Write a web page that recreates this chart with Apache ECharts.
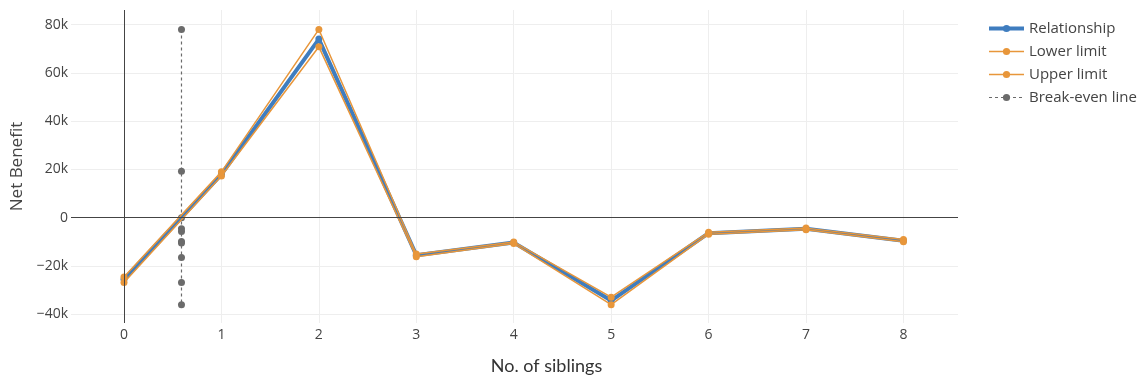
<!DOCTYPE html>
<html>
<head>
<meta charset="utf-8">
<script src="https://cdn.jsdelivr.net/npm/echarts@6/dist/echarts.min.js"></script>
<style>html,body{margin:0;padding:0;background:#fff}#c{width:1137px;height:380px}</style>
</head>
<body>
<div id="c"></div>
<script>
const siblings = [0, 1, 2, 3, 4, 5, 6, 7, 8];
const relationship = [-25500, 18000, 74000, -15500, -10300, -34300, -6400, -4600, -9500];
const lowerLimit = [-26800, 17300, 70800, -16200, -10700, -36000, -6800, -5000, -9900];
const upperLimit = [-24500, 19000, 78000, -15000, -10000, -32900, -6000, -4300, -9000];
const breakEvenX = 0.59;
const breakEvenY = [78000, 19300, 0, -4600, -5700, -9800, -10500, -16500, -26800, -36000];
const xTicks = [0, 1, 2, 3, 4, 5, 6, 7, 8];
const yTicks = [-40000, -20000, 0, 20000, 40000, 60000, 80000];

const pairs = (xs, ys) => xs.map((x, i) => [x, ys[i]]);
const blue = '#3f7dbf';
const orange = '#e8963a';
const grey = '#6b6b6b';

const chart = echarts.init(document.getElementById('c'));
chart.setOption({
  animation: false,
  textStyle: {fontFamily: 'Open Sans'},
  grid: {left: 71, right: 179, top: 10, bottom: 51, containLabel: false},
  legend: {
    orient: 'vertical', left: 982, top: 16,
    itemWidth: 35, itemHeight: 9, itemGap: 8,
    textStyle: {fontSize: 15, color: '#444', fontFamily: 'Open Sans'},
    data: [
      {name: 'Relationship', lineStyle: {width: 4}},
      {name: 'Lower limit', lineStyle: {width: 1.5}},
      {name: 'Upper limit', lineStyle: {width: 1.5}},
      {name: 'Break-even line', lineStyle: {width: 1.2}}
    ]
  },
  xAxis: {
    type: 'value', min: -0.544, max: 8.56,
    axisLine: {show: false}, axisTick: {show: false, customValues: xTicks},
    axisLabel: {customValues: xTicks, color: '#444', fontSize: 14, margin: 5},
    splitLine: {show: true, lineStyle: {color: '#eeeeee', width: 1}},
    name: 'No. of siblings', nameLocation: 'middle', nameGap: 34,
    nameTextStyle: {fontSize: 18, color: '#333', fontFamily: 'Lato', padding: [0, 0, 0, 64]}
  },
  yAxis: {
    type: 'value', min: -43600, max: 86050,
    axisLine: {show: false}, axisTick: {show: false, customValues: yTicks},
    axisLabel: {customValues: yTicks, color: '#444', fontSize: 14, margin: 3,
      formatter: v => v === 0 ? '0' : (v < 0 ? '\u2212' : '') + Math.abs(v / 1000) + 'k'},
    splitLine: {show: true, lineStyle: {color: '#eeeeee', width: 1}},
    name: 'Net Benefit', nameLocation: 'middle', nameGap: 42,
    nameTextStyle: {fontSize: 17, color: '#444'}
  },
  series: [
    {
      name: 'Relationship', type: 'line', data: pairs(siblings, relationship),
      symbol: 'circle', symbolSize: 7, z: 3,
      lineStyle: {color: blue, width: 4}, itemStyle: {color: blue},
      markLine: {
        silent: true, symbol: 'none', label: {show: false},
        lineStyle: {color: '#444', width: 1, type: 'solid'},
        data: [{yAxis: 0}, {xAxis: 0}]
      }
    },
    {
      name: 'Lower limit', type: 'line', data: pairs(siblings, lowerLimit),
      symbol: 'circle', symbolSize: 7, z: 4,
      lineStyle: {color: orange, width: 1.5}, itemStyle: {color: orange}
    },
    {
      name: 'Upper limit', type: 'line', data: pairs(siblings, upperLimit),
      symbol: 'circle', symbolSize: 7, z: 4,
      lineStyle: {color: orange, width: 1.5}, itemStyle: {color: orange}
    },
    {
      name: 'Break-even line', type: 'line',
      data: breakEvenY.map(y => [breakEvenX, y]),
      symbol: 'circle', symbolSize: 7, z: 2,
      lineStyle: {color: grey, width: 1.2, type: [3, 3]}, itemStyle: {color: grey}
    }
  ]
});
</script>
</body>
</html>
